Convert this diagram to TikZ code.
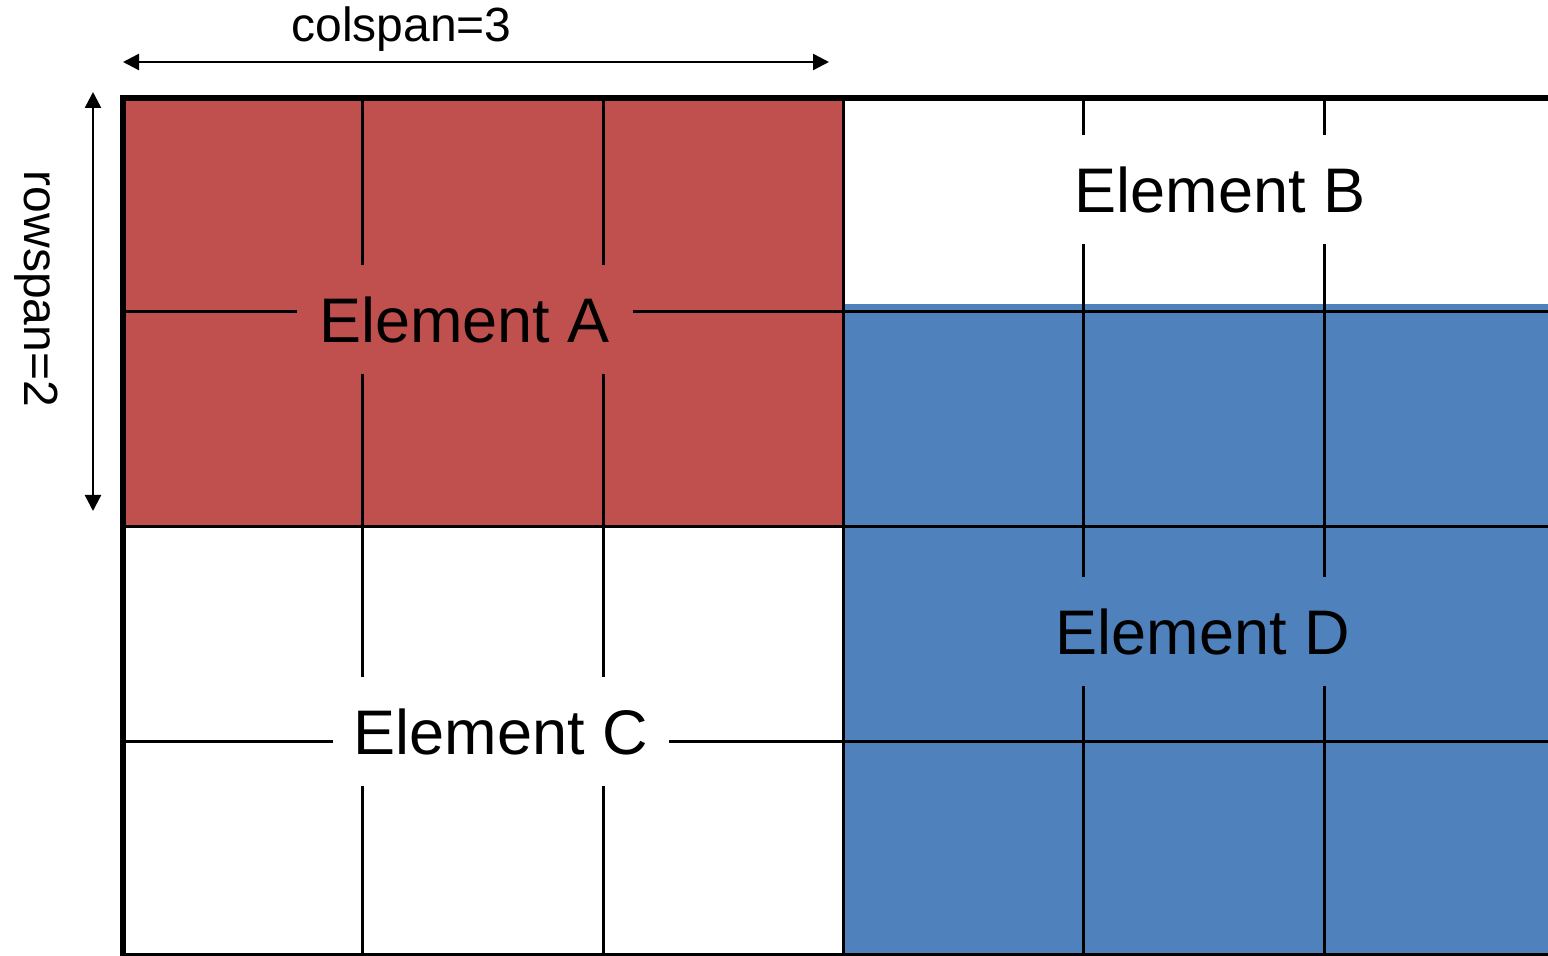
\documentclass[tikz,border=0pt]{standalone}
\usepackage{fontspec}
\setmainfont{Liberation Sans}
\usetikzlibrary{arrows.meta}
\definecolor{cellred}{HTML}{C0504D}
\definecolor{cellblue}{HTML}{4F81BD}
\tikzset{
  gridline/.style={line width=1.5pt, black},
  border/.style={line width=3pt, black},
  dimarrow/.style={line width=1.2pt, {Triangle[length=8pt,width=8pt]}-{Triangle[length=8pt,width=8pt]}},
  lbl/.style={font=\fontsize{31.5}{36}\selectfont, inner sep=0pt, minimum width=168pt, minimum height=54.5pt, anchor=center},
  dimlbl/.style={font=\fontsize{24}{28}\selectfont, inner sep=0pt, anchor=base}
}
\begin{document}
\begin{tikzpicture}[x=0.5pt,y=-0.5pt]
\useasboundingbox (0,0) rectangle (1548,956);
% fills
\fill[cellred] (122,97) rectangle (843,527);
\fill[cellblue] (843,304) rectangle (1548,956);
% grid lines
\foreach \gx in {362,603,843,1083,1324}
  \draw[gridline] (\gx,97) -- (\gx,956);
\foreach \gy in {312,527,742}
  \draw[gridline] (122,\gy) -- (1548,\gy);
% labels (boxes hide the grid lines)
\node[lbl, fill=cellred] (A) at (464.5,319.5) {Element A};
\node[lbl, fill=white] (B) at (1220,189.5) {Element B};
\node[lbl, fill=white] (C) at (501,731.5) {Element C};
\node[lbl, fill=cellblue] (D) at (1203,631.5) {Element D};
% borders
\draw[border] (122,98) -- (1548,98);
\draw[border] (123,95) -- (123,956);
\draw[border] (120,956) -- (1548,956);
% dimension arrows
\coordinate (csl) at (123,62);
\coordinate (csr) at (829,62);
\coordinate (rst) at (93,92);
\coordinate (rsb) at (93,511);
\draw[dimarrow] (csl) -- (csr);
\draw[dimarrow] (rst) -- (rsb);
\node[dimlbl] (colspan) at (401.5,42) {colspan=3};
\node[dimlbl, rotate=-90] (rowspan) at (25,289) {rowspan=2};
\end{tikzpicture}
\end{document}
